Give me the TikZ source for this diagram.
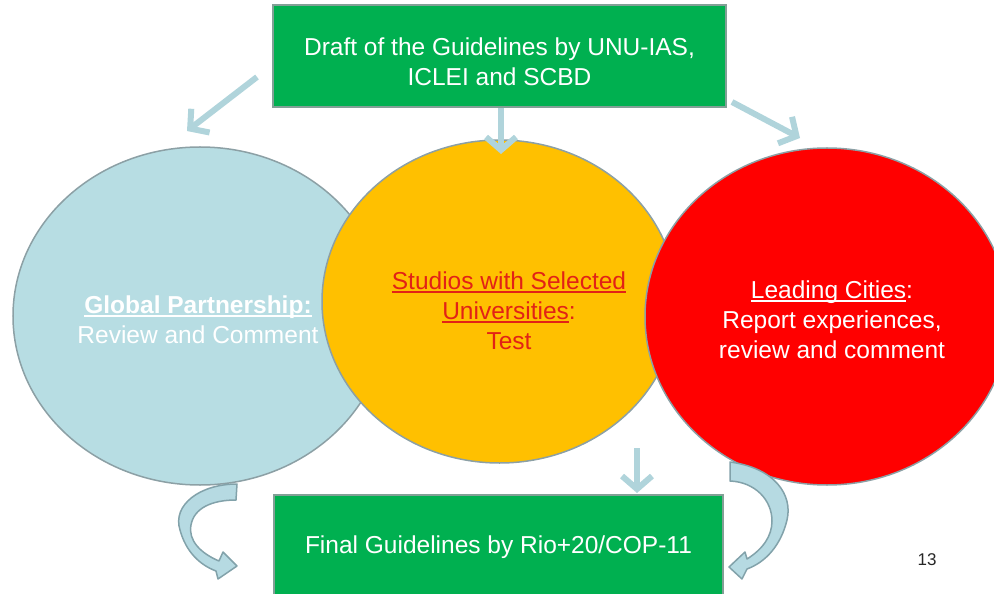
\documentclass[tikz,border=0pt]{standalone}
\usepackage{fontspec}
\setmainfont{Liberation Sans}
\usetikzlibrary{arrows.meta,shapes.geometric}
\definecolor{boxgreen}{RGB}{0,176,80}
\definecolor{lblue}{RGB}{183,221,227}
\definecolor{circyellow}{RGB}{255,192,0}
\definecolor{circred}{RGB}{255,0,0}
\definecolor{rim}{RGB}{140,160,165}
\definecolor{boxrim}{RGB}{130,160,150}
\definecolor{arrowblue}{RGB}{176,212,219}
\definecolor{txtred}{RGB}{226,34,22}
\definecolor{curvefill}{RGB}{182,218,226}
\definecolor{curveedge}{RGB}{130,162,170}
\definecolor{pagegray}{RGB}{38,38,38}
\newcommand\ulx[1]{\setbox0\hbox{#1}\rlap{\rule[-3bp]{\wd0}{1.8bp}}\box0}
\begin{document}
\begin{tikzpicture}[x=1bp,y=-1bp,
  font=\fontsize{24.5bp}{30bp}\selectfont,
  greenbox/.style={rectangle, fill=boxgreen, draw=boxrim, line width=1.2bp, inner sep=0},
  bubble/.style={ellipse, draw=rim, line width=1.5bp, inner sep=0},
  lbl/.style={align=center, inner sep=0},
  flowarrow/.style={draw=arrowblue, line width=6bp, -{Straight Barb[length=13bp,width=30bp]}},
  curvearrow/.style={fill=curvefill, draw=curveedge, line width=1.5bp, line join=round}]
\useasboundingbox (0,0) rectangle (994,594);
\clip (0,0) rectangle (994,594);

% top box
\node[greenbox, minimum width=453bp, minimum height=102bp] (draft) at (499.5,56) {};
\node[lbl, text=white] (draftlbl) at (499.5,62) {Draft of the Guidelines by UNU-IAS,\\ICLEI and SCBD};

% bottom box
\node[greenbox, minimum width=449bp, minimum height=112bp] (final) at (498.5,551) {};
\node[lbl, text=white] (finallbl) at (498.5,547) {Final Guidelines by Rio+20/COP-11};

% circles
\node[bubble, fill=lblue, minimum width=374bp, minimum height=338bp] (global) at (200,316) {};
\node[lbl, text=white] (globallbl) at (198,320) {\ulx{\bfseries Global Partnership:}\\Review and Comment};

\node[bubble, fill=circyellow, minimum width=355bp, minimum height=323bp] (studio) at (499.5,301.5) {};
\node[lbl, text=txtred] (studiolbl) at (509,311) {\ulx{Studios with Selected}\\\ulx{Universities}:\\Test};

\node[bubble, fill=circred, minimum width=364bp, minimum height=337bp] (cities) at (827,316.5) {};
\node[lbl, text=white] (citieslbl) at (832,320) {\ulx{Leading Cities}:\\Report experiences,\\review and comment};

% straight arrows
\coordinate (a1s) at (257,77);  \coordinate (a1e) at (187,131);
\coordinate (a2s) at (501,108); \coordinate (a2e) at (501,154);
\coordinate (a3s) at (732,102); \coordinate (a3e) at (800,138);
\coordinate (a4s) at (637,448); \coordinate (a4e) at (637,493);
\draw[flowarrow] (a1s) -- (a1e);
\draw[flowarrow] (a2s) -- (a2e);
\draw[flowarrow] (a3s) -- (a3e);
\draw[flowarrow] (a4s) -- (a4e);

% curved arrows
\filldraw[curvearrow] (237,484) .. controls (200,484) and (172,505) .. (180,530)
  .. controls (186,552) and (200,565) .. (216,571) -- (218,579) -- (237,566) -- (223,552) -- (219,561)
  .. controls (200,553) and (188,540) .. (191,525)
  .. controls (194,508) and (212,500) .. (236,500) -- cycle;
\filldraw[curvearrow] (730,462) .. controls (775,468) and (793,495) .. (787,520)
  .. controls (781,545) and (766,562) .. (747,569) -- (742,579) -- (729,567) -- (745,552) -- (747,559)
  .. controls (763,549) and (772,536) .. (772,521)
  .. controls (772,500) and (755,482) .. (730,481) -- cycle;

% page number
\node[font=\fontsize{17bp}{20bp}\selectfont, text=pagegray, inner sep=0] (page) at (927,560) {13};
\end{tikzpicture}
\end{document}
